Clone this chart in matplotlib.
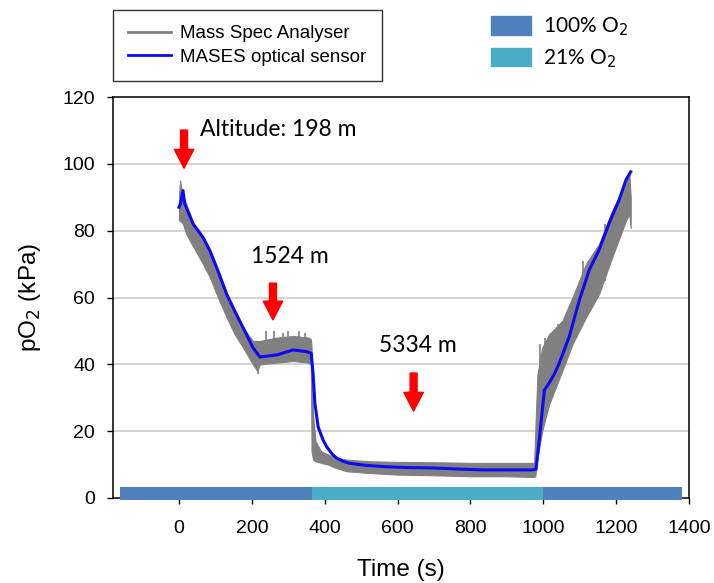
import matplotlib
matplotlib.use("Agg")
import matplotlib.pyplot as plt
from matplotlib.lines import Line2D
from matplotlib.patches import Patch

# optical sensor trace (s, kPa)
blue_t = [0, 4, 11, 16, 39, 66, 85, 107, 131, 153, 176, 203, 222, 268, 313,
          350, 363, 368, 373, 382, 395, 405, 420, 432, 450, 468, 510, 560,
          630, 696, 760, 834, 900, 970, 980, 989, 1003, 1016, 1030, 1044,
          1071, 1099, 1126, 1153, 1181, 1208, 1227, 1240]
blue_y = [87, 88, 92, 88, 82, 78, 74, 68, 61, 56, 51, 45, 42.2, 42.8, 44.3,
          43.8, 43.3, 37.4, 28.4, 21.3, 17.5, 15.4, 13.2, 12, 11, 10.4, 9.8,
          9.4, 9.1, 9.0, 8.7, 8.4, 8.4, 8.4, 8.6, 17.4, 32.3, 34.4, 37, 40.4,
          48.2, 59.2, 68.2, 74.2, 82.3, 89.2, 95.2, 97.6]

# mass spec trace, read as a noise band (low / high edge)
gray_t = [0, 3, 11, 20, 40, 66, 85, 107, 131, 153, 176, 203, 215, 222, 268,
          313, 355, 362, 364, 368, 375, 390, 410, 430, 460, 520, 600, 700,
          800, 900, 975, 978, 984, 997, 1016, 1052, 1080, 1117, 1153, 1189,
          1227, 1236, 1240]
gray_lo = [83, 83, 82, 79, 75, 70, 66, 60, 54, 49, 45, 40, 38, 40, 40.5,
           41, 40.5, 40, 14, 11.5, 11, 10.5, 10, 9, 8, 7.5, 7, 6.8,
           6.5, 6.5, 6.3, 6.5, 12, 20, 28, 38, 46, 54, 61, 72,
           83, 85, 80.8]
gray_hi = [90, 95, 90, 88, 82, 78, 74, 68, 61, 56, 51, 47, 47, 47, 48,
           48.5, 48, 47.5, 45, 25, 17, 14, 13, 12, 11.5, 11, 10.8, 10.7,
           10.5, 10.5, 10.5, 20, 37, 45, 49, 53, 60, 70, 76, 86,
           94, 97, 90]

# isolated spikes in the mass spec trace
spike_t = [216, 238, 262, 285, 300, 330, 346, 991, 1005, 1040, 1110, 1170]
spike_lo = [37, 42, 42, 42, 42, 42, 42, 22, 24, 36, 55, 65]
spike_hi = [45, 50, 50, 49.5, 50, 50, 49.5, 46, 48, 52, 71, 82]

# gas supply segments
gas_start = [-162, 364, 1000]
gas_end = [364, 1000, 1380]
gas_color = ["#4F81BD", "#4BACC6", "#4F81BD"]

# altitude markers
arrow_t = [14, 258, 644]
arrow_tail = [110.1, 64.3, 37.4]
arrow_tip = [98.7, 53.3, 26.0]
label_txt = ["Altitude: 198 m", "1524 m", "5334 m"]
label_t = [58, 304, 655]
label_y = [110.4, 72.2, 45.6]
label_ha = ["left", "center", "center"]

xticks = [0, 200, 400, 600, 800, 1000, 1200, 1400]
yticks = [0, 20, 40, 60, 80, 100, 120]

GRAY = "#808080"
BLUE = "#0A0AF5"

fig = plt.figure(figsize=(7.14, 5.83), dpi=100)
ax = fig.add_axes([0.1583, 0.1458, 0.8067, 0.6878])
ax.set_xlim(-181, 1400)
ax.set_ylim(0, 120)

for y in yticks[1:-1]:
    ax.axhline(y, color="#C8C8C8", lw=1.1, zorder=0)

ax.fill_between(gray_t, gray_lo, gray_hi, color=GRAY, lw=0.8,
                edgecolor=GRAY, zorder=1)
ax.vlines(spike_t, spike_lo, spike_hi, color=GRAY, lw=1.2, zorder=1)
ax.plot(blue_t, blue_y, color=BLUE, lw=2.2, zorder=2)

for s, e, c in zip(gas_start, gas_end, gas_color):
    ax.fill_between([s, e], -0.6, 3.3, color=c, lw=0, zorder=4,
                    clip_on=False)

for t, a, b in zip(arrow_t, arrow_tail, arrow_tip):
    ax.annotate("", xy=(t, b), xytext=(t, a),
                arrowprops=dict(arrowstyle="simple,head_width=1.4,"
                                "head_length=1.35,tail_width=0.5",
                                color="red", shrinkA=0, shrinkB=0,
                                mutation_scale=10))
for txt, t, y, ha in zip(label_txt, label_t, label_y, label_ha):
    ax.text(t, y, txt, ha=ha, va="center", fontsize=16.5, family="Lato")

ax.set_xticks(xticks)
ax.set_yticks(yticks)
ax.tick_params(direction="out", length=4.5, width=1, color="black",
               labelsize=14)
ax.tick_params(axis="x", pad=11)
ax.tick_params(axis="y", pad=8.5)
for lab in ax.get_xticklabels() + ax.get_yticklabels():
    lab.set_family("Liberation Sans")
for sp in ax.spines.values():
    sp.set_linewidth(1.1)
ax.set_xlabel("Time (s)", fontsize=17.5, family="Liberation Sans",
              labelpad=16)
ax.set_ylabel("pO$_2$ (kPa)", fontsize=17.5, family="Liberation Sans",
              labelpad=14)

h1 = [Line2D([], [], color=GRAY, lw=2), Line2D([], [], color=BLUE, lw=2)]
leg1 = fig.legend(h1, ["Mass Spec Analyser", "MASES optical sensor"],
                  loc="upper left", bbox_to_anchor=(113 / 714, 1 - 10 / 583),
                  prop={"family": "Liberation Sans", "size": 13.5},
                  frameon=True, fancybox=False, edgecolor="black",
                  borderpad=0.8, handlelength=2.3, handletextpad=0.5,
                  labelspacing=0.35, borderaxespad=0)
leg1.get_frame().set_linewidth(1.0)

h2 = [Patch(color=c) for c in gas_color[:2]]
fig.legend(h2, ["100% O$_2$", "21% O$_2$"], loc="upper left",
           bbox_to_anchor=(483 / 714, 1 - 7 / 583),
           prop={"family": "Lato", "size": 15}, frameon=False,
           handlelength=1.9, handleheight=1.0, handletextpad=0.6,
           labelspacing=0.45, borderaxespad=0)

fig.savefig("out.png", dpi=100)
